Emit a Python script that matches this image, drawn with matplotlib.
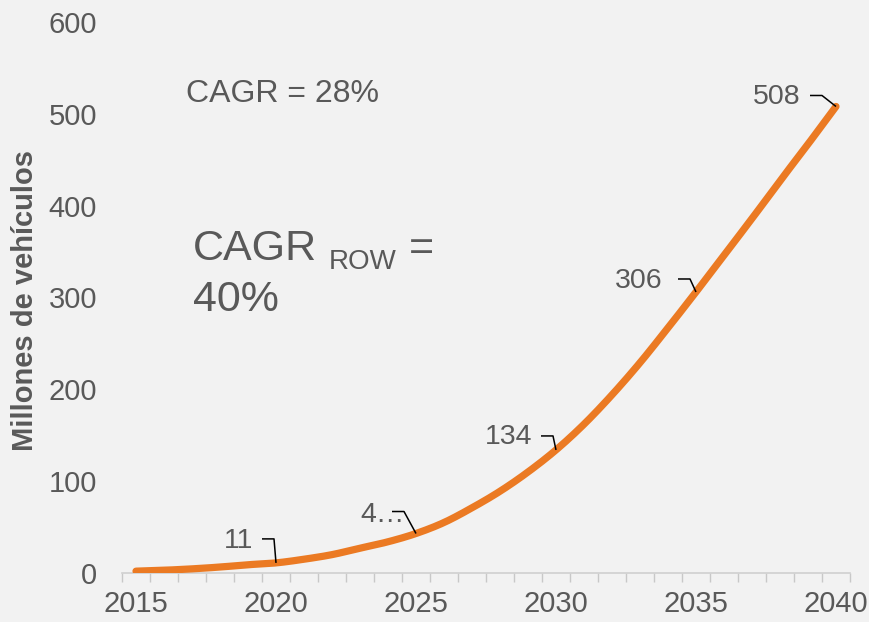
import numpy as np
import matplotlib
matplotlib.use("Agg")
import matplotlib.pyplot as plt

# ---- data ----
years = list(range(2015, 2041))
values = [2, 3, 4.5, 6.5, 9, 11, 15, 20, 27, 34, 43, 55, 71, 89, 110, 134,
          162, 194, 229, 267, 306, 346, 386, 427, 467, 508]
label_years = [2020, 2025, 2030, 2035, 2040]
label_texts = ["11", "4…", "134", "306", "508"]
xtick_years = [2015, 2020, 2025, 2030, 2035, 2040]
yticks = [0, 100, 200, 300, 400, 500, 600]

# ---- style / layout (pixel offsets of callouts) ----
text_off = [(-23, 22), (-11, 19), (-24, 13), (-33, 11), (-35, 9)]
elbow_off = [(-2, 24), (-12, 22), (-3, 14), (-6, 13), (-14, 11)]
hlen = 12

BG = "#f2f2f2"
TXT = "#595959"
ORANGE = "#EB7A23"
plt.rcParams["font.family"] = ["Liberation Sans", "DejaVu Sans"]

W, H = 870, 622
fig = plt.figure(figsize=(W / 100, H / 100), dpi=100, facecolor=BG)
ax = fig.add_axes([122 / W, 1 - 573 / H, (850 - 122) / W, (573 - 22) / H])
ax.set_facecolor(BG)

idx = np.arange(len(years), dtype=float)
vals = np.array(values, dtype=float)

# Catmull-Rom smoothing (Excel-like smoothed line)
def catmull(x, y, n=20):
    px = np.concatenate([[2 * x[0] - x[1]], x, [2 * x[-1] - x[-2]]])
    py = np.concatenate([[2 * y[0] - y[1]], y, [2 * y[-1] - y[-2]]])
    xs, ys = [], []
    t = np.linspace(0, 1, n, endpoint=False)
    for i in range(1, len(px) - 2):
        p0, p1, p2, p3 = py[i - 1], py[i], py[i + 1], py[i + 2]
        q0, q1, q2, q3 = px[i - 1], px[i], px[i + 1], px[i + 2]
        ys.append(0.5 * ((2 * p1) + (-p0 + p2) * t + (2 * p0 - 5 * p1 + 4 * p2 - p3) * t ** 2 + (-p0 + 3 * p1 - 3 * p2 + p3) * t ** 3))
        xs.append(0.5 * ((2 * q1) + (-q0 + q2) * t + (2 * q0 - 5 * q1 + 4 * q2 - q3) * t ** 2 + (-q0 + 3 * q1 - 3 * q2 + q3) * t ** 3))
    xs.append([x[-1]]); ys.append([y[-1]])
    return np.concatenate(xs), np.concatenate(ys)

sx, sy = catmull(idx, vals)
ax.plot(sx, sy, color=ORANGE, lw=5.2, solid_capstyle="round", zorder=3)

ax.set_xlim(-0.5, len(years) - 0.5)
ax.set_ylim(0, 600)

# axes styling
for s in ["top", "right", "left"]:
    ax.spines[s].set_visible(False)
ax.spines["bottom"].set_color("#d0d0d0")
ax.spines["bottom"].set_linewidth(1.2)

ax.set_xticks(np.arange(-0.5, len(years), 1.0))
ax.set_xticklabels([])
ax.tick_params(axis="x", which="major", length=6.5, color="#c8c8c8", width=1)
ax.set_xticks([years.index(y) for y in xtick_years], minor=True)
ax.set_xticklabels([str(y) for y in xtick_years], minor=True)
ax.tick_params(axis="x", which="minor", length=0, pad=12, labelsize=21, labelcolor=TXT)

ax.set_yticks(yticks)
ax.set_yticklabels([str(v) for v in yticks])
ax.tick_params(axis="y", length=0, pad=18, labelsize=21, labelcolor=TXT)

fig.text(25 / W, 1 - 300 / H, "Millones de vehículos", rotation=90, ha="center",
         va="center", fontsize=21, fontweight="bold", color=TXT)

# data labels with leader lines (display pixel coords)
fig.canvas.draw()
for yr, txt, (tdx, tdy), (edx, edy) in zip(label_years, label_texts, text_off, elbow_off):
    i = years.index(yr)
    px, py = ax.transData.transform((i, values[i]))
    ex, ey = px + edx, py + edy
    ax.plot([ex - hlen, ex, px], [ey, ey, py], color="black", lw=1.1,
            transform=None, zorder=4, solid_capstyle="butt")
    ax.text(px + tdx, py + tdy, txt, transform=None, ha="right", va="center",
            fontsize=20.5, color=TXT, zorder=5)

# CAGR annotations
def ftxt(x, y, s, size):
    fig.text(x / W, 1 - y / H, s, fontsize=size, color=TXT, ha="left", va="baseline")

ftxt(186, 102, "CAGR = 28%", 23)
ftxt(193, 260, "CAGR", 31)
ftxt(329, 269, "ROW", 20)
ftxt(409, 260, "=", 31)
ftxt(193, 311, "40%", 31)

fig.savefig("out.png", dpi=100, facecolor=BG)
